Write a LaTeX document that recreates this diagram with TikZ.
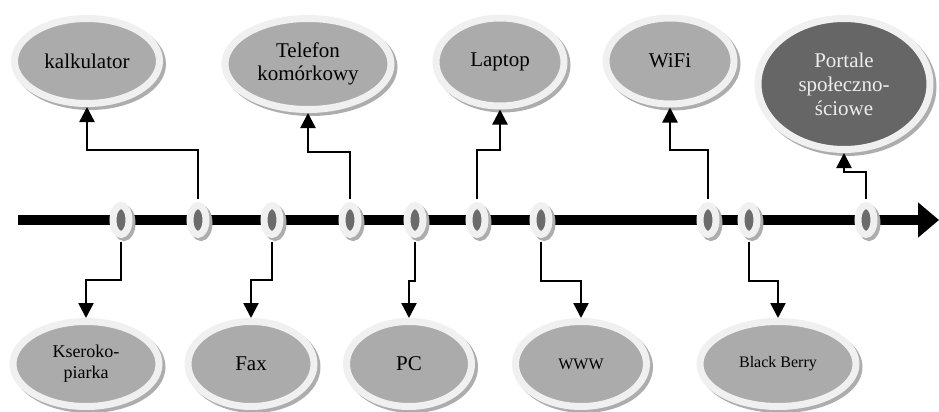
\documentclass[tikz,border=0pt]{standalone}
\usepackage{fontspec}
\setmainfont{Liberation Serif}
\usetikzlibrary{shapes, shadows, arrows.meta}

\begin{document}
\begin{tikzpicture}[x=0.5pt, y=-0.5pt, semithick]
\tikzstyle{rim}=[draw=black!6, line width=3.5pt, drop shadow={shadow xshift=1.5pt, shadow yshift=-1.5pt, fill=black!32, draw=black!32, line width=3.5pt, opacity=1}]
\tikzstyle{dot}=[ellipse, rim, fill=black!58, inner sep=0pt, minimum width=8pt, minimum height=14.5pt]
\tikzstyle{item}=[ellipse, rim, fill=black!33, inner sep=0pt, align=center, font=\fontsize{10.5}{11.5}\selectfont]
\tikzstyle{link}=[-{Triangle[length=7.5pt, width=7.5pt]}, line width=1.2pt, shorten <=1.75pt]
\useasboundingbox (0,0) rectangle (939,412);

% os czasu
\coordinate (start) at (18,220);
\coordinate (end)   at (939,220);
\draw[line width=5pt, -{Triangle[length=10.5pt, width=17pt]}] (start) -- (end);

\foreach \x/\n in {121/1, 198/2, 272/3, 350/4, 415/5, 477/6, 541/7, 708/8, 749/9, 866/10}
  \node[dot] (m\n) at (\x,220) {};

% nad osia
\node[item, minimum width=72.5pt, minimum height=42.5pt]   (kalk)    at (87,61)   {kalkulator};
\node[item, minimum width=83pt, minimum height=45.5pt]     (tel)     at (308,64)  {Telefon\\kom\'orkowy};
\node[item, minimum width=64pt, minimum height=44pt]       (laptop)  at (500,62)  {Laptop};
\node[item, minimum width=64pt, minimum height=43pt]       (wifi)    at (670,61)  {WiFi};
\node[item, minimum width=86pt, minimum height=65.5pt, fill=black!60, text=black!7,
      font=\fontsize{10.5}{12}\selectfont]                 (portale) at (844,84)  {Portale\\społeczno-\\ściowe};

% pod osia
\node[item, minimum width=73pt, minimum height=42.5pt, font=\fontsize{9}{10.5}\selectfont] (ksero) at (86,364) {Kseroko-\\piarka};
\node[item, minimum width=63pt, minimum height=42.5pt]     (fax)     at (251,364) {Fax};
\node[item, minimum width=62.5pt, minimum height=42.5pt]   (pc)      at (409,364) {PC};
\node[item, minimum width=65.5pt, minimum height=42.5pt, font=\fontsize{8}{9}\selectfont] (www) at (581,364) {WWW};
\node[item, minimum width=78pt, minimum height=42.5pt, font=\fontsize{8}{9}\selectfont]   (bb)  at (778,364) {Black Berry};

\draw[link] (m2.north)  -- ++(0,-52) -| (kalk.south);
\draw[link] (m4.north)  -- ++(0,-50) -| (tel.south);
\draw[link] (m6.north)  -- ++(0,-52) -| (laptop.south);
\draw[link] (m8.north)  -- ++(0,-52) -| (wifi.south);
\draw[link] (m10.north) -- ++(0,-30) -| (portale.south);

\draw[link] (m1.south)  -- ++(0,42) -| (ksero.north);
\draw[link] (m3.south)  -- ++(0,42) -| (fax.north);
\draw[link] (m5.south)  -- ++(0,43) -| (pc.north);
\draw[link] (m7.south)  -- ++(0,43) -| (www.north);
\draw[link] (m9.south)  -- ++(0,43) -| (bb.north);

\end{tikzpicture}
\end{document}
